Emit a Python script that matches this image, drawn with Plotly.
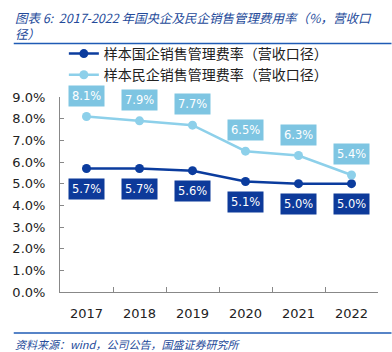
import plotly.graph_objects as go

years = ["2017", "2018", "2019", "2020", "2021", "2022"]
soe_rate = [5.7, 5.7, 5.6, 5.1, 5.0, 5.0]
private_rate = [8.1, 7.9, 7.7, 6.5, 6.3, 5.4]
soe_name = "样本国企销售管理费率（营收口径）"
private_name = "样本民企销售管理费率（营收口径）"
ytick_vals = [0, 1, 2, 3, 4, 5, 6, 7, 8, 9]
ytick_text = ["0.0%", "1.0%", "2.0%", "3.0%", "4.0%", "5.0%", "6.0%", "7.0%", "8.0%", "9.0%"]
title_text = "图表 6:  2017-2022 年国央企及民企销售管理费用率（%，营收口<br>径）"
source_text = "资料来源：wind，公司公告，国盛证券研究所"

DARK = "#0b3c9e"
LIGHT = "#8dd0ea"
LIGHT_BOX = "#7ec5e2"
DARK_BOX = "#0d3a9a"
CJK = "Noto Sans CJK SC"
LAT = "DejaVu Sans"

W, H = 392, 352
L, R, T, B = 48, 14, 97, 60
PW, PH = W - L - R, H - T - B


def px_to_paper_y(py):
    return 1 - (py - T) / PH


def px_to_paper_x(px):
    return (px - L) / PW


fig = go.Figure()
fig.add_trace(go.Scatter(x=years, y=soe_rate, name=soe_name, mode="lines+markers",
                         line=dict(color=DARK, width=2.5), marker=dict(size=9, color=DARK)))
fig.add_trace(go.Scatter(x=years, y=private_rate, name=private_name, mode="lines+markers",
                         line=dict(color=LIGHT, width=2.5), marker=dict(size=9, color=LIGHT)))

# on a category axis, annotation x is the category's serial index
for i, yv in enumerate(private_rate):
    fig.add_annotation(x=i, y=yv, xref="x", yref="y", text=f"{yv:.1f}%", showarrow=False,
                       yshift=21, bgcolor=LIGHT_BOX, borderpad=3,
                       font=dict(color="white", size=11.5, family=LAT))
for i, yv in enumerate(soe_rate):
    fig.add_annotation(x=i, y=yv, xref="x", yref="y", text=f"{yv:.1f}%", showarrow=False,
                       yshift=-20, bgcolor=DARK_BOX, borderpad=3,
                       font=dict(color="white", size=11.5, family=LAT))

fig.add_annotation(x=px_to_paper_x(-1), y=px_to_paper_y(6), xref="paper", yref="paper",
                   xanchor="left", yanchor="top",
                   text=title_text, showarrow=False, align="left",
                   font=dict(family=CJK, size=12.5, color="#244a9a", style="italic"))
fig.add_annotation(x=px_to_paper_x(-1), y=px_to_paper_y(334), xref="paper", yref="paper",
                   xanchor="left", yanchor="top",
                   text=source_text, showarrow=False, align="left",
                   font=dict(family=CJK, size=11, color="#244a9a", style="italic"))

for py in (43.5, 333):
    fig.add_shape(type="line", xref="paper", yref="paper",
                  x0=px_to_paper_x(0), x1=px_to_paper_x(W), y0=px_to_paper_y(py), y1=px_to_paper_y(py),
                  line=dict(color="#1f5bb5", width=1.5))

fig.update_layout(
    width=W, height=H,
    margin=dict(l=L, r=R, t=T, b=B),
    plot_bgcolor="white", paper_bgcolor="white",
    showlegend=True,
    legend=dict(x=px_to_paper_x(52), xanchor="left", y=px_to_paper_y(38), yanchor="top",
                font=dict(family=CJK, size=14, color="#222"), bgcolor="rgba(0,0,0,0)",
                itemwidth=30, tracegroupgap=0),
    xaxis=dict(type="category", showline=True, linecolor="#888", linewidth=1,
               ticks="inside", ticklen=5, tickcolor="#888", tickson="boundaries",
               range=[-0.5, 5.5], ticklabelstandoff=9,
               showgrid=False, tickfont=dict(family=LAT, size=13, color="#222")),
    yaxis=dict(range=[0, 9], tickvals=ytick_vals, ticktext=ytick_text, showline=True,
               linecolor="#888", linewidth=1, ticks="inside", ticklen=4, tickcolor="#888",
               ticklabelstandoff=11,
               showgrid=False, zeroline=False, tickfont=dict(family=LAT, size=13, color="#222")),
)

fig.write_html("out.html")
